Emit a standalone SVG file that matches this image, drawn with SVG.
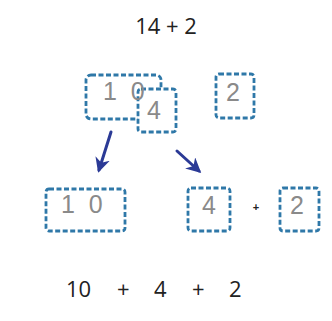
<svg xmlns="http://www.w3.org/2000/svg" width="332" height="321" viewBox="0 0 332 321">
<style>
.box{fill:#fff;stroke:#2f78a8;stroke-width:2.8;stroke-dasharray:5 2.5}
.g{font-family:"Liberation Sans",Arial,sans-serif;font-size:25px;fill:#8a8a8a}
.t{font-family:"Open Sans","Liberation Sans",sans-serif;font-size:22px;fill:#222}
.arr{stroke:#2b3a96;stroke-width:3;fill:none;stroke-linecap:round}
</style>
<defs>
<marker id="ah" viewBox="0 0 10 10" refX="8" refY="5" markerWidth="5" markerHeight="5" orient="auto">
<path d="M0,0 L10,5 L0,10 L3,5 Z" fill="#2b3a96"/>
</marker>
</defs>
<rect width="332" height="321" fill="#fff"/>
<g id="title"><text class="t" x="166" y="34" text-anchor="middle">14 + 2</text></g>
<g id="n10top">
<rect class="box" x="86" y="75" width="75" height="44" rx="5"/>
</g>
<g id="n4top">
<rect class="box" x="138" y="89" width="38" height="43" rx="3"/>
<text class="g" x="147" y="119">4</text>
</g>
<text class="g" x="103" y="100" letter-spacing="3.5">1 0</text>
<g id="n2top">
<rect class="box" x="216" y="74" width="38" height="44" rx="3"/>
<text class="g" x="226" y="101">2</text>
</g>
<g id="connectors">
<line class="arr" x1="111" y1="132" x2="99" y2="170" marker-end="url(#ah)"/>
<line class="arr" x1="177" y1="151" x2="199" y2="171" marker-end="url(#ah)"/>
</g>
<g id="n10bot">
<rect class="box" x="46" y="189" width="79" height="42" rx="3"/>
<text class="g" x="61" y="213" letter-spacing="3.5">1 0</text>
</g>
<g id="n4bot">
<rect class="box" x="188" y="188" width="42" height="43" rx="3"/>
<text class="g" x="202" y="214">4</text>
</g>
<g id="plus"><text x="256" y="211" text-anchor="middle" font-family="Liberation Sans,sans-serif" font-size="11" font-weight="bold" fill="#222">+</text></g>
<g id="n2bot">
<rect class="box" x="280" y="188" width="39" height="43" rx="3"/>
<text class="g" x="290" y="214">2</text>
</g>
<g id="sum">
<text class="t" x="66" y="297">10</text>
<text class="t" x="117" y="297">+</text>
<text class="t" x="154" y="297">4</text>
<text class="t" x="192" y="297">+</text>
<text class="t" x="229" y="297">2</text>
</g>
</svg>
